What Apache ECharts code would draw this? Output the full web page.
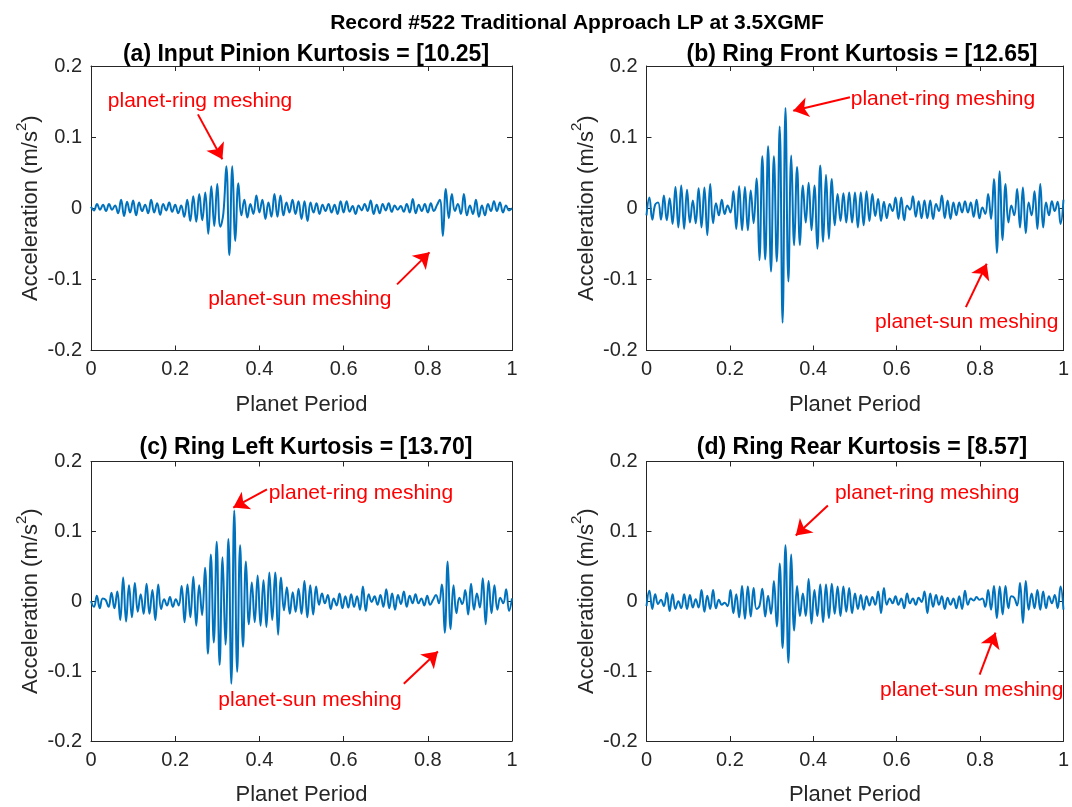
<!DOCTYPE html>
<html><head><meta charset="utf-8">
<script src="https://cdn.jsdelivr.net/npm/echarts@6/dist/echarts.min.js"></script>
<style>html,body{margin:0;padding:0;background:#fff}#c{width:1072px;height:807px}</style>
</head><body><div id="c"></div>
<script>
const suptitle = 'Record #522 Traditional Approach LP at 3.5XGMF';
const panelTitles = [
  '(a) Input Pinion Kurtosis = [10.25]',
  '(b) Ring Front Kurtosis = [12.65]',
  '(c) Ring Left Kurtosis = [13.70]',
  '(d) Ring Rear Kurtosis = [8.57]'
];
const xName = 'Planet Period';
const xTicks = [0, 0.2, 0.4, 0.6, 0.8, 1];
const yTicks = [-0.2, -0.1, 0, 0.1, 0.2];

// Signal extremes, evenly spaced over the planet period
const inputPinion = [
  0.002,-0.003,0.006,-0.002,0.005,-0.004,0.006,-0.002,0.004,-0.007,
  0.012,-0.011,0.009,-0.006,0.011,-0.010,0.008,-0.004,0.005,-0.007,0.012,-0.006,0.007,-0.009,0.006,-0.003,
  0.008,-0.005,0.005,-0.007,0.004,
  -0.012,0.012,-0.018,0.017,-0.019,0.020,-0.017,
  0.022,-0.036,0.031,-0.025,0.034,-0.026,-0.008,0.059,-0.066,0.059,-0.046,0.035,-0.010,0.012,
  -0.013,0.006,-0.008,0.018,-0.006,0.012,-0.015,0.008,-0.012,0.020,-0.012,0.018,-0.010,0.008,-0.006,0.012,-0.008,0.010,-0.015,
  0.010,-0.018,0.008,-0.006,0.007,-0.008,0.005,-0.004,0.006,-0.006,0.005,-0.008,0.010,-0.006,0.010,-0.005,0.003,-0.008,0.004,-0.003,
  0.006,-0.004,0.011,-0.008,0.005,-0.007,0.006,-0.003,0.007,-0.005,0.004,-0.002,0.003,-0.005,0.006,-0.006,0.013,-0.007,0.005,-0.004,
  0.006,-0.006,0.007,-0.004,
  0.004,0.012,-0.039,0.027,-0.014,0.020,-0.004,0.006,
  -0.008,0.020,-0.010,0.004,-0.008,0.012,-0.012,0.004,-0.010,0.006,-0.004,0.010,-0.004,0.008,-0.006,0.004,-0.003,0.000
];
const ringFront = [
  -0.010,0.015,-0.016,0.005,0.008,-0.016,0.018,-0.017,0.014,-0.022,
  0.030,-0.027,0.032,-0.029,0.026,-0.020,0.011,-0.021,0.028,-0.027,
  0.029,-0.038,0.034,-0.021,0.007,-0.010,0.012,-0.008,0.004,-0.006,
  0.024,-0.029,0.031,-0.031,0.030,-0.031,0.025,-0.021,0.042,-0.073,
  0.073,-0.072,0.087,-0.089,0.073,-0.075,0.115,-0.161,0.141,-0.103,
  0.074,-0.052,0.058,-0.052,0.032,-0.020,0.036,-0.031,0.032,-0.057,
  0.060,-0.047,0.047,-0.043,0.041,-0.024,0.020,-0.018,0.021,-0.020,
  0.022,-0.020,0.022,-0.027,0.022,-0.024,0.024,-0.018,0.020,-0.011,
  0.013,-0.018,0.009,-0.014,0.006,-0.004,0.015,-0.015,0.015,-0.017,
  0.004,-0.002,0.017,-0.012,0.010,-0.014,0.011,-0.014,0.011,-0.015,
  0.006,-0.004,0.018,-0.014,0.011,-0.015,0.008,-0.010,0.008,-0.006,
  0.010,-0.006,0.008,-0.012,0.012,-0.014,0.001,-0.008,0.020,-0.015,
  0.041,-0.063,0.052,-0.045,0.034,-0.020,0.004,-0.010,0.027,-0.027,
  0.029,-0.035,0.008,-0.010,0.024,-0.029,0.034,-0.027,0.008,-0.010,
  0.010,-0.004,0.009,-0.022,0.012
];
const ringLeft = [
  0.000,-0.008,0.008,-0.010,0.004,0.002,-0.008,0.012,-0.010,0.014,
  -0.027,0.034,-0.029,0.023,-0.023,0.026,-0.015,0.010,-0.018,0.025,
  -0.018,0.016,-0.027,0.024,-0.011,0.003,-0.006,0.006,-0.008,0.003,
  -0.006,0.022,-0.030,0.024,-0.023,0.035,-0.035,0.023,-0.020,0.048,
  -0.075,0.067,-0.059,0.085,-0.091,0.063,-0.062,0.089,-0.118,0.130,
  -0.101,0.080,-0.065,0.057,-0.033,0.027,-0.030,0.037,-0.035,0.030,
  -0.037,0.041,-0.027,0.041,-0.048,0.034,-0.013,0.020,-0.018,0.013,
  -0.015,0.018,-0.018,0.029,-0.023,0.023,-0.019,0.021,-0.005,0.011,
  -0.003,0.009,-0.011,0.004,-0.006,0.011,-0.010,0.007,-0.009,0.010,
  -0.008,0.007,-0.012,0.021,-0.014,0.010,-0.001,0.007,-0.005,0.009,
  -0.008,0.017,-0.010,0.011,-0.012,0.009,-0.004,0.014,-0.008,0.008,
  -0.003,0.010,-0.003,0.004,-0.006,0.008,-0.005,0.002,0.009,-0.003,
  0.024,-0.045,0.057,-0.040,0.023,-0.017,0.005,-0.004,0.016,-0.019,
  0.025,-0.012,0.011,-0.009,0.033,-0.033,0.029,-0.017,0.023,-0.012,
  0.005,-0.003,0.017,-0.014,0.004
];
const ringRear = [
  -0.007,0.015,-0.011,0.010,-0.004,0.002,-0.007,0.012,-0.014,0.010,
  -0.011,0.000,-0.010,0.010,-0.011,0.009,-0.009,0.003,-0.009,0.016,
  -0.015,0.008,-0.011,0.016,-0.010,0.002,-0.005,-0.002,-0.007,0.016,
  -0.017,0.010,-0.023,0.022,-0.025,0.021,-0.022,0.019,-0.011,-0.007,
  0.018,-0.022,0.008,-0.018,0.029,-0.036,0.054,-0.067,0.080,-0.088,
  0.067,-0.042,0.022,-0.021,0.011,-0.021,0.032,-0.032,0.016,-0.021,
  0.024,-0.030,0.024,-0.024,0.025,-0.018,0.021,-0.021,0.021,-0.015,
  0.019,-0.017,0.011,-0.011,0.009,-0.012,0.007,-0.006,0.006,-0.005,
  0.014,-0.017,0.019,-0.005,0.004,-0.003,0.007,-0.005,0.004,-0.010,
  0.011,-0.003,0.004,-0.005,0.005,-0.001,0.014,-0.017,0.011,-0.008,
  0.009,-0.005,0.007,-0.011,0.005,-0.005,0.004,-0.010,0.007,-0.011,
  0.015,-0.005,0.004,0.001,0.006,0.002,0.004,-0.008,0.016,-0.012,
  0.022,-0.024,0.021,-0.019,0.022,-0.010,0.007,0.005,-0.006,0.026,
  -0.031,0.029,-0.012,0.011,-0.010,0.016,-0.012,0.014,-0.010,0.007,
  -0.003,0.009,-0.010,0.021,-0.012
];
const signals = [inputPinion, ringFront, ringLeft, ringRear];

// Annotations in data coordinates: label centre, arrow tail, arrow tip
const annotations = [
  [ {text:'planet-ring meshing', at:[0.259,0.150], from:[0.254,0.132], to:[0.312,0.069]},
    {text:'planet-sun meshing',  at:[0.496,-0.128], from:[0.727,-0.107], to:[0.804,-0.062]} ],
  [ {text:'planet-ring meshing', at:[0.711,0.153], from:[0.488,0.156], to:[0.352,0.137]},
    {text:'planet-sun meshing',  at:[0.768,-0.160], from:[0.766,-0.139], to:[0.816,-0.078]} ],
  [ {text:'planet-ring meshing', at:[0.641,0.155], from:[0.418,0.160], to:[0.338,0.134]},
    {text:'planet-sun meshing',  at:[0.520,-0.142], from:[0.743,-0.118], to:[0.824,-0.072]} ],
  [ {text:'planet-ring meshing', at:[0.673,0.155], from:[0.435,0.137], to:[0.358,0.094]},
    {text:'planet-sun meshing',  at:[0.780,-0.128], from:[0.799,-0.105], to:[0.837,-0.045]} ]
];

const FONT = 'Liberation Sans, Arial, Helvetica, sans-serif';
const AX = '#262626';
const grids = [
  {left:91, top:66, width:421, height:284.5},
  {left:646.5, top:66, width:421, height:284.5},
  {left:91, top:461.5, width:421, height:284},
  {left:646.5, top:461.5, width:421, height:284}
];
const titleCenters = [[301, 38], [857, 38], [301, 431], [857, 431]];

const xMin = xTicks[0], xMax = xTicks[xTicks.length-1], xInt = xTicks[1]-xTicks[0];
const yMin = yTicks[0], yMax = yTicks[yTicks.length-1], yInt = yTicks[1]-yTicks[0];

const xAxes = [], yAxes = [], series = [];
const titles = [{
  text: suptitle, left: 572, top: 8, textAlign: 'center',
  textStyle: {fontFamily: FONT, fontWeight: 'bold', fontSize: 21, color: '#000'}
}];
grids.forEach((g, i) => {
  titles.push({text: panelTitles[i], left: titleCenters[i][0], top: titleCenters[i][1], textAlign: 'center',
    textStyle: {fontFamily: FONT, fontWeight: 'bold', fontSize: 23, color: '#000'}});
  const common = {min: xMin, max: xMax, interval: xInt, gridIndex: i, splitLine: {show: false},
    axisLine: {show: true, onZero: false, lineStyle: {color: AX, width: 1}},
    axisTick: {show: true, inside: true, length: 5, lineStyle: {color: AX}}};
  xAxes.push(Object.assign({}, common, {type: 'value', position: 'bottom',
    name: xName, nameLocation: 'middle', nameGap: 43,
    nameTextStyle: {fontFamily: FONT, fontSize: 22, color: AX},
    axisLabel: {fontFamily: FONT, fontSize: 20, color: AX, margin: 9}}));
  xAxes.push(Object.assign({}, common, {type: 'value', position: 'top', axisLabel: {show: false}}));
  const ycommon = {min: yMin, max: yMax, interval: yInt, gridIndex: i, splitLine: {show: false},
    axisLine: {show: true, onZero: false, lineStyle: {color: AX, width: 1}},
    axisTick: {show: true, inside: true, length: 5, lineStyle: {color: AX}}};
  yAxes.push(Object.assign({}, ycommon, {type: 'value', position: 'left',
    name: '{n|Acceleration (m/s}{s|2}{n|)}', nameLocation: 'middle', nameGap: 49,
    nameTextStyle: {rich: {
      n: {fontFamily: FONT, fontSize: 22, color: AX, lineHeight: 28, verticalAlign: 'bottom'},
      s: {fontFamily: FONT, fontSize: 15, color: AX, lineHeight: 28, verticalAlign: 'top'}
    }},
    axisLabel: {fontFamily: FONT, fontSize: 20, color: AX, margin: 9}}));
  yAxes.push(Object.assign({}, ycommon, {type: 'value', position: 'right', axisLabel: {show: false}}));

  const sig = signals[i];
  const ann = annotations[i];
  series.push({
    type: 'line', xAxisIndex: 2*i, yAxisIndex: 2*i,
    data: sig.map((v, k) => [k/(sig.length-1), v]),
    showSymbol: false, smooth: 0.45, animation: false,
    lineStyle: {color: '#0072BD', width: 2},
    markLine: {
      silent: true, animation: false, symbol: ['none', 'arrow'], symbolSize: 15,
      lineStyle: {color: '#ff0000', width: 2, type: 'solid'},
      label: {show: false},
      data: ann.map(a => [{coord: a.from}, {coord: a.to}])
    },
    markPoint: {
      silent: true, animation: false, symbol: 'rect', symbolSize: 1,
      itemStyle: {color: 'rgba(0,0,0,0)'},
      label: {show: true, position: 'inside', fontFamily: FONT, fontSize: 21, color: '#ff0000'},
      data: ann.map(a => ({coord: a.at, label: {formatter: a.text}}))
    }
  });
});

const chart = echarts.init(document.getElementById('c'), null, {renderer: 'canvas'});
chart.setOption({
  backgroundColor: '#fff', animation: false,
  title: titles, grid: grids, xAxis: xAxes, yAxis: yAxes, series: series
});
</script></body></html>
